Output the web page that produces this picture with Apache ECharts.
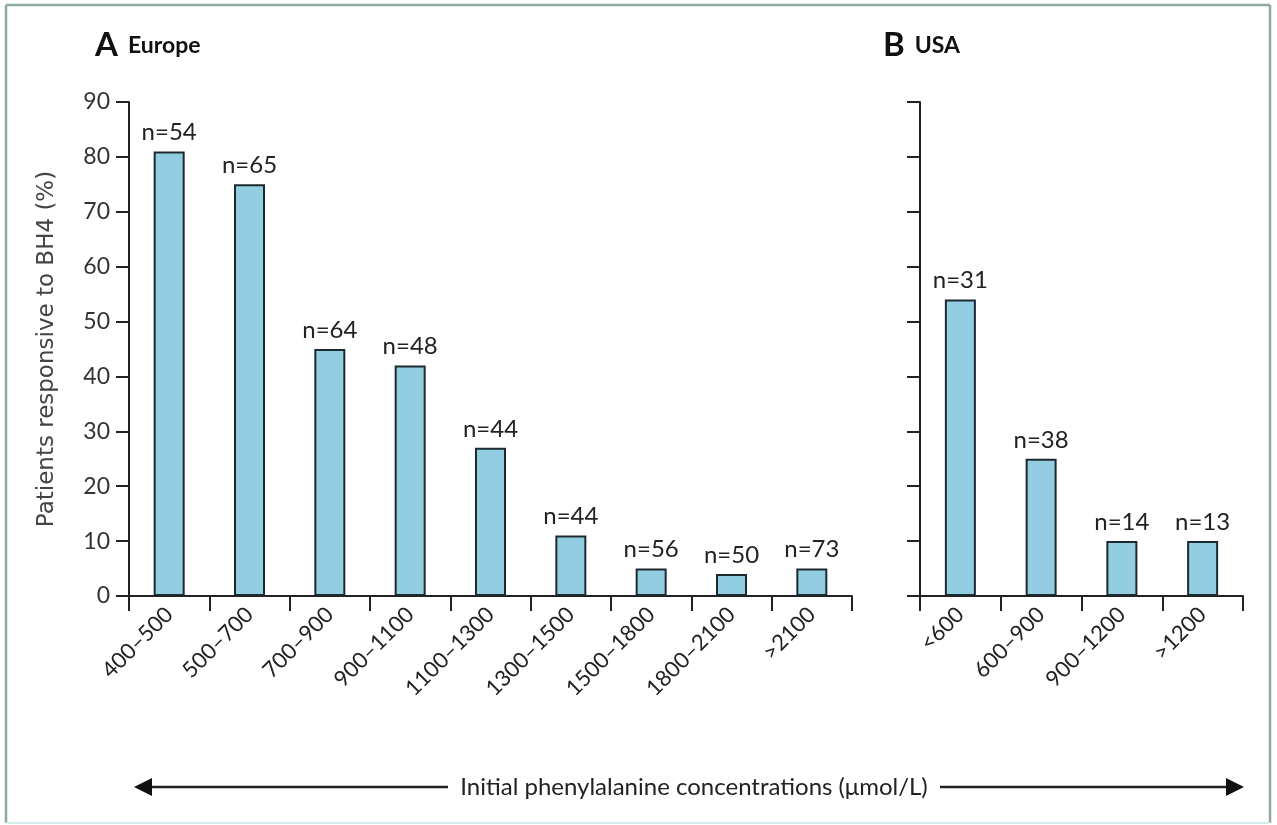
<!DOCTYPE html>
<html>
<head>
<meta charset="utf-8">
<script src="https://cdn.jsdelivr.net/npm/echarts@6/dist/echarts.min.js"></script>
<style>
html,body{margin:0;padding:0;background:#fff;}
#chart{width:1277px;height:825px;}
</style>
</head>
<body>
<div id="chart"></div>
<script>
// ---- data ----
const euroCategories = ['400–500','500–700','700–900','900–1100','1100–1300','1300–1500','1500–1800','1800–2100','>2100'];
const euroValues = [81, 75, 45, 42, 27, 11, 5, 4, 5];
const euroN = [54, 65, 64, 48, 44, 44, 56, 50, 73];
const usaCategories = ['<600','600–900','900–1200','>1200'];
const usaValues = [54, 25, 10, 10];
const usaN = [31, 38, 14, 13];
const yMin = 0, yMax = 90, yStep = 10;

const FONT = 'Lato, "Open Sans", sans-serif';
const BAR_FILL = '#93cde2';
const INK = '#222';

const chart = echarts.init(document.getElementById('chart'));

function xAxisCfg(gridIndex, cats) {
  return {
    type: 'category', gridIndex, data: cats, boundaryGap: true,
    axisLine: { show: true, lineStyle: { color: INK, width: 2 } },
    axisTick: { show: true, inside: false, length: 15, alignWithLabel: false, interval: 0, lineStyle: { color: INK, width: 2 } },
    axisLabel: { rotate: 45, interval: 0, margin: 15, fontFamily: FONT, fontSize: 22, color: INK }
  };
}
function yAxisCfg(gridIndex, showLabels, name) {
  return {
    type: 'value', gridIndex, min: yMin, max: yMax, interval: yStep,
    splitLine: { show: false },
    axisLine: { show: true, lineStyle: { color: INK, width: 2 } },
    axisTick: { show: true, length: 13, lineStyle: { color: INK, width: 2 } },
    axisLabel: { show: showLabels, margin: 19, fontFamily: FONT, fontSize: 23, color: '#333' },
    name: name || '', nameLocation: 'middle', nameGap: 70, nameRotate: 90,
    nameTextStyle: { fontFamily: '"DejaVu Sans", sans-serif', fontSize: 23, color: '#444' }
  };
}
function barSeries(idx, values, ns) {
  return {
    type: 'bar', xAxisIndex: idx, yAxisIndex: idx, data: values, barWidth: 31,
    itemStyle: { color: BAR_FILL, borderColor: '#1c2a30', borderWidth: 2 },
    label: {
      show: true, position: 'top', distance: 7, fontFamily: FONT, fontSize: 24, color: INK,
      formatter: p => 'n=' + ns[p.dataIndex]
    },
    silent: true
  };
}

const option = {
  backgroundColor: '#fff',
  animation: false,
  title: [
    { text: '{a|A}  {b|Europe}', left: 90, top: 24,
      textStyle: { rich: {
        a: { fontFamily: FONT, fontWeight: 'bold', fontSize: 33, color: '#111' },
        b: { fontFamily: FONT, fontWeight: 'bold', fontSize: 23, color: '#111' } } } },
    { text: '{a|B}  {b|USA}', left: 878, top: 24,
      textStyle: { rich: {
        a: { fontFamily: FONT, fontWeight: 'bold', fontSize: 33, color: '#111' },
        b: { fontFamily: FONT, fontWeight: 'bold', fontSize: 23, color: '#111' } } } }
  ],
  grid: [
    { left: 129, top: 102, width: 723, height: 494, containLabel: false },
    { left: 920, top: 102, width: 323, height: 494, containLabel: false }
  ],
  xAxis: [ xAxisCfg(0, euroCategories), xAxisCfg(1, usaCategories) ],
  yAxis: [ yAxisCfg(0, true, 'Patients responsive to BH4 (%)'), yAxisCfg(1, false) ],
  series: [ barSeries(0, euroValues, euroN), barSeries(1, usaValues, usaN) ],
  graphic: [
    // frame
    { type: 'line', shape: { x1: 6, y1: 5, x2: 1270, y2: 5 }, style: { stroke: '#8fa9a2', lineWidth: 2.5 } },
    { type: 'line', shape: { x1: 6, y1: 5, x2: 6, y2: 823 }, style: { stroke: '#8fa9a2', lineWidth: 2.5 } },
    { type: 'line', shape: { x1: 1270, y1: 5, x2: 1270, y2: 823 }, style: { stroke: '#8fa9a2', lineWidth: 2.5 } },
    { type: 'line', shape: { x1: 6, y1: 823, x2: 1270, y2: 823 }, style: { stroke: '#d3ecec', lineWidth: 2 } },
    // bottom arrow
    { type: 'line', shape: { x1: 148, y1: 787, x2: 448, y2: 787 }, style: { stroke: INK, lineWidth: 2.5 } },
    { type: 'polygon', shape: { points: [[134, 787], [152, 778], [152, 796]] }, style: { fill: '#111' } },
    { type: 'line', shape: { x1: 940, y1: 787, x2: 1230, y2: 787 }, style: { stroke: INK, lineWidth: 2.5 } },
    { type: 'polygon', shape: { points: [[1244, 787], [1226, 778], [1226, 796]] }, style: { fill: '#111' } },
    { type: 'text', x: 694, y: 787,
      style: { text: 'Initial phenylalanine concentrations (μmol/L)', fontFamily: FONT, fontSize: 24, fill: INK,
               textAlign: 'center', textVerticalAlign: 'middle' } }
  ]
};
chart.setOption(option);
</script>
</body>
</html>
